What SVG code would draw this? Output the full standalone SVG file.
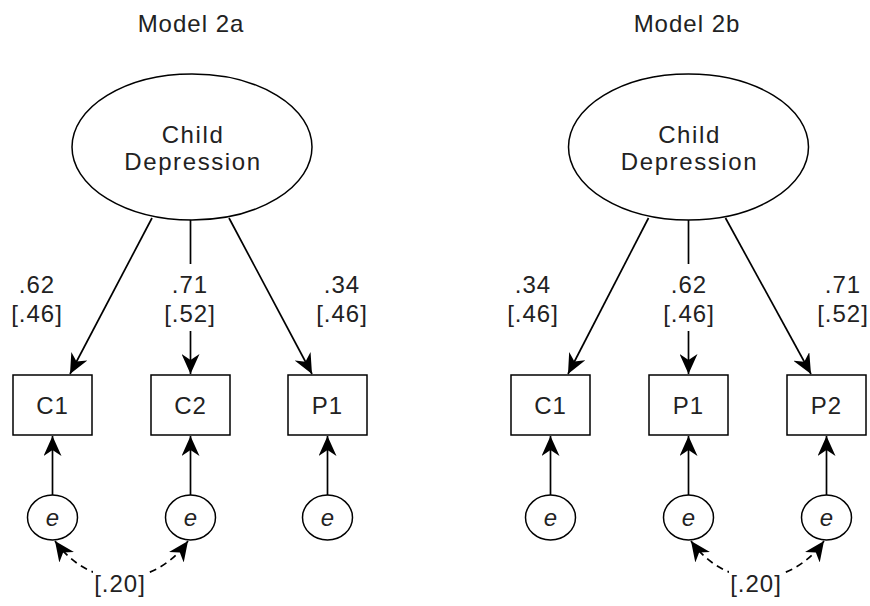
<svg xmlns="http://www.w3.org/2000/svg" width="870" height="606" viewBox="0 0 870 606">
<defs>
<marker id="arr" viewBox="0 0 20 18" refX="20" refY="9" markerWidth="20" markerHeight="18" markerUnits="userSpaceOnUse" orient="auto-start-reverse">
<path d="M0,0 L20,9 L0,18 L6,9 Z" fill="#000" stroke="none"/>
</marker>
</defs>
<style>
text{font-family:"Liberation Sans",Arial,sans-serif;font-size:24px;letter-spacing:1px;fill:#222;text-anchor:middle}
.n{fill:#fff;stroke:#000;stroke-width:1.5}
.c{fill:none;stroke:#000;stroke-width:1.7}
.d{fill:none;stroke:#000;stroke-width:1.7;stroke-dasharray:7 5}
.e{font-style:italic;letter-spacing:0}
.w{letter-spacing:1.6px}
.bg{fill:#fff;stroke:none}
</style>
<rect width="870" height="606" fill="#fff"/>
<text x="191" y="32">Model 2a</text>
<text x="687" y="32">Model 2b</text>

<g id="connectors">
<path class="c" d="M152,218 L70,374" marker-end="url(#arr)"/>
<path class="c" d="M190.5,220 L190.5,374" marker-end="url(#arr)"/>
<path class="c" d="M229,218 L312,374" marker-end="url(#arr)"/>
<path class="c" d="M52.5,495 L52.5,436" marker-end="url(#arr)"/>
<path class="c" d="M190.5,495 L190.5,436" marker-end="url(#arr)"/>
<path class="c" d="M327.5,495 L327.5,436" marker-end="url(#arr)"/>
<path class="d" d="M55,541 C90,590 153,590 188,541" marker-start="url(#arr)" marker-end="url(#arr)"/>
<path class="c" d="M648.5,218 L568,374" marker-end="url(#arr)"/>
<path class="c" d="M688.5,220 L688.5,374" marker-end="url(#arr)"/>
<path class="c" d="M725.5,218 L811,374" marker-end="url(#arr)"/>
<path class="c" d="M550.5,495 L550.5,436" marker-end="url(#arr)"/>
<path class="c" d="M688.5,495 L688.5,436" marker-end="url(#arr)"/>
<path class="c" d="M826.5,495 L826.5,436" marker-end="url(#arr)"/>
<path class="d" d="M691,541 C726,590 789,590 824,541" marker-start="url(#arr)" marker-end="url(#arr)"/>
</g>

<g id="labels">
<text x="37" y="293">.62</text><text x="37" y="322">[.46]</text>
<rect class="bg" x="165" y="264" width="52" height="67"/>
<text x="190" y="293">.71</text><text x="190" y="322">[.52]</text>
<text x="342" y="293">.34</text><text x="342" y="322">[.46]</text>
<rect class="bg" x="93" y="566" width="54" height="36"/>
<text x="120" y="592">[.20]</text>
<text x="533" y="293">.34</text><text x="533" y="322">[.46]</text>
<rect class="bg" x="662" y="264" width="54" height="67"/>
<text x="689" y="293">.62</text><text x="689" y="322">[.46]</text>
<text x="843" y="293">.71</text><text x="843" y="322">[.52]</text>
<rect class="bg" x="729" y="566" width="54" height="36"/>
<text x="756" y="592">[.20]</text>
</g>

<g id="latent-a"><ellipse class="n" cx="192" cy="147" rx="120" ry="73"/><text class="w" x="193" y="143">Child</text><text class="w" x="193" y="170">Depression</text></g>
<g id="C1-a"><rect class="n" x="13" y="375" width="79" height="60"/><text x="52.5" y="414">C1</text></g>
<g id="C2-a"><rect class="n" x="151" y="375" width="79" height="60"/><text x="190.5" y="414">C2</text></g>
<g id="P1-a"><rect class="n" x="288" y="375" width="79" height="60"/><text x="327.5" y="414">P1</text></g>
<g id="eC1-a"><ellipse class="n" cx="52.5" cy="517.5" rx="25" ry="22.5"/><text class="e" x="52.5" y="526">e</text></g>
<g id="eC2-a"><ellipse class="n" cx="190.5" cy="517.5" rx="25" ry="22.5"/><text class="e" x="190.5" y="526">e</text></g>
<g id="eP1-a"><ellipse class="n" cx="327.5" cy="517.5" rx="25" ry="22.5"/><text class="e" x="327.5" y="526">e</text></g>

<g id="latent-b"><ellipse class="n" cx="688.5" cy="147" rx="120" ry="73"/><text class="w" x="689.5" y="143">Child</text><text class="w" x="689.5" y="170">Depression</text></g>
<g id="C1-b"><rect class="n" x="511" y="375" width="79" height="60"/><text x="550.5" y="414">C1</text></g>
<g id="P1-b"><rect class="n" x="649" y="375" width="79" height="60"/><text x="688.5" y="414">P1</text></g>
<g id="P2-b"><rect class="n" x="787" y="375" width="79" height="60"/><text x="826.5" y="414">P2</text></g>
<g id="eC1-b"><ellipse class="n" cx="550.5" cy="517.5" rx="25" ry="22.5"/><text class="e" x="550.5" y="526">e</text></g>
<g id="eP1-b"><ellipse class="n" cx="688.5" cy="517.5" rx="25" ry="22.5"/><text class="e" x="688.5" y="526">e</text></g>
<g id="eP2-b"><ellipse class="n" cx="826.5" cy="517.5" rx="25" ry="22.5"/><text class="e" x="826.5" y="526">e</text></g>
</svg>
